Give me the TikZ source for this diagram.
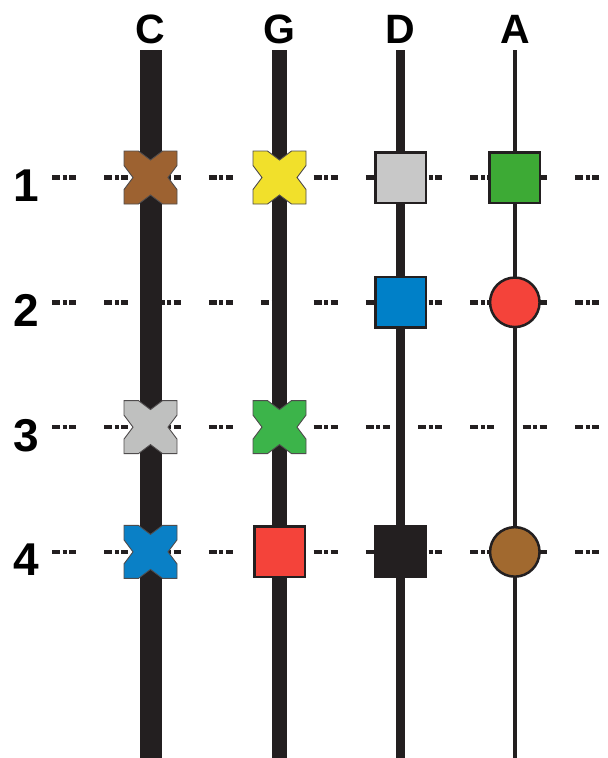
\documentclass[tikz,border=0pt]{standalone}
\usepackage{fontspec}
\setmainfont{Liberation Sans}
\usepackage{tikz}

\definecolor{ink}{HTML}{231F20}
\definecolor{xbrown}{HTML}{9D6231}
\definecolor{xyellow}{HTML}{F1E02B}
\definecolor{xgray}{HTML}{BFC0BF}
\definecolor{xgreen}{HTML}{3CB44A}
\definecolor{xblue}{HTML}{0A80C6}
\definecolor{sqgray}{HTML}{C8C8C8}
\definecolor{sqgreen}{HTML}{3DAA35}
\definecolor{sqblue}{HTML}{0080C8}
\definecolor{sqred}{HTML}{F4433A}
\definecolor{dotbrown}{HTML}{A1692F}

\begin{document}
\begin{tikzpicture}[x=1pt,y=-1pt,
        col/.style={draw=ink,line cap=butt},
        row/.style={draw=ink,line width=4.5pt,dash pattern=on 8pt off 2.5pt on 4pt off 2.5pt on 7pt off 28.3pt},
        sq/.style={draw=ink,line width=2.5pt,fill=#1,minimum size=50.5pt,inner sep=0pt},
        dot/.style={circle,draw=ink,line width=2.5pt,fill=#1,minimum size=49.5pt,inner sep=0pt},
        xmark/.style={minimum size=58pt,inner sep=0pt,path picture={
            \filldraw[fill=#1,draw=ink!80,line width=0.9pt,line join=miter]
                (path picture bounding box.center) ++(-26.5pt,26.5pt)
                -- ++(14.5pt,0pt) -- ++(12pt,-9pt) -- ++(12pt,9pt) -- ++(14.5pt,0pt)
                -- ++(0pt,-14.5pt) -- ++(-9pt,-12pt) -- ++(9pt,-12pt) -- ++(0pt,-14.5pt)
                -- ++(-14.5pt,0pt) -- ++(-12pt,9pt) -- ++(-12pt,-9pt) -- ++(-14.5pt,0pt)
                -- ++(0pt,14.5pt) -- ++(9pt,12pt) -- ++(-9pt,12pt) -- cycle;}},
        lab/.style={font=\fontsize{41}{41}\selectfont\bfseries,anchor=base,inner sep=0pt},
        num/.style={font=\fontsize{46}{46}\selectfont\bfseries,anchor=base,inner sep=0pt}]

    \useasboundingbox (0,0) rectangle (608,758);

    % dashed rows, numbered on the left
    \foreach \i in {1,...,4} {
        \pgfmathsetmacro\yy{177.5+(\i-1)*124.8}
        \coordinate (l\i) at (52,\yy);
        \coordinate (r\i) at (602,\yy);
        \draw[row] (l\i) -- (r\i);
        \node[num] (num\i) at (26,\yy+24) {\i};
    }

    % the four columns, thick to thin
    \foreach \name/\xx/\w in {C/150.5/22,G/279.5/15.5,D/400.7/9.3,A/514.8/4.5} {
        \coordinate (top\name) at (\xx,50);
        \coordinate (bot\name) at (\xx,758);
        \draw[col,line width=\w pt] (top\name) -- (bot\name);
        \node[lab] (lab\name) at (\xx,43.5) {\name};
    }

    % row 1
    \node[xmark=xbrown] (C1) at (topC |- l1) {};
    \node[xmark=xyellow] (G1) at (topG |- l1) {};
    \node[sq=sqgray] (D1) at (topD |- l1) {};
    \node[sq=sqgreen] (A1) at (topA |- l1) {};
    % row 2
    \node[sq=sqblue] (D2) at (topD |- l2) {};
    \node[dot=sqred] (A2) at (topA |- l2) {};
    % row 3
    \node[xmark=xgray] (C3) at (topC |- l3) {};
    \node[xmark=xgreen] (G3) at (topG |- l3) {};
    % row 4
    \node[xmark=xblue] (C4) at (topC |- l4) {};
    \node[sq=sqred] (G4) at (topG |- l4) {};
    \node[sq=ink] (D4) at (topD |- l4) {};
    \node[dot=dotbrown] (A4) at (topA |- l4) {};
\end{tikzpicture}
\end{document}
